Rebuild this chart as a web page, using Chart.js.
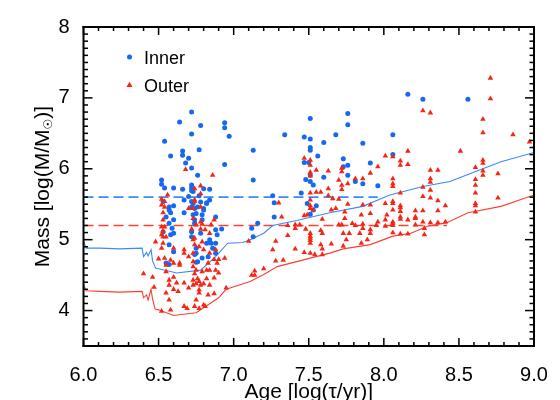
<!DOCTYPE html>
<html><head><meta charset="utf-8">
<script src="https://cdn.jsdelivr.net/npm/chart.js@4.4.0/dist/chart.umd.min.js"></script>
<style>html,body{margin:0;padding:0;background:#fff}#wrap{width:560px;height:400px}</style>
</head><body><div id="wrap"><canvas id="c" width="560" height="400"></canvas></div>
<script>
// Inner sample: age [log(tau/yr)], mass [log(M/Msun)]
const innerAge = [6.72,6.64,6.78,6.94,6.94,6.97,6.72,6.54,6.66,6.66,6.70,6.77,6.58,6.68,6.72,6.94,7.13,7.13,6.76,6.52,6.52,6.54,6.60,6.66,6.72,6.72,6.72,6.80,6.84,6.77,7.26,
8.16,8.26,8.56,7.51,7.76,7.76,7.34,7.47,7.51,7.68,8.06,7.51,7.51,7.60,7.86,7.56,7.47,7.50,7.73,7.73,7.76,8.06,7.91,7.48,7.60,7.76,7.51,7.51,7.53,7.81,7.86,7.96,7.45,
6.70,6.60,6.57,6.72,6.72,6.67,6.73,6.76,6.78,6.84,6.82,6.80,6.53,6.57,6.58,6.67,6.55,6.73,6.74,6.73,6.74,6.60,6.57,6.59,6.53,6.60,6.58,6.72,6.72,6.57,6.60,6.55,6.57,6.75,6.74,6.75,
6.82,6.80,6.88,6.92,6.88,6.89,6.84,6.85,6.82,6.88,6.86,6.88,6.83,6.79,6.75,6.76,6.78,6.74,7.13,6.75,6.79,6.79,7.27,7.27,7.16,7.12,7.49,7.55,7.53,7.51];
const innerMass = [6.80,6.66,6.61,6.65,6.58,6.46,6.49,6.39,6.25,6.19,6.15,6.27,6.18,6.08,6.01,6.06,6.26,5.84,5.91,5.84,5.78,5.73,5.73,5.71,5.77,5.73,5.69,5.72,5.71,5.62,5.62,
7.05,6.98,6.98,6.71,6.78,6.62,6.48,6.45,6.42,6.48,6.48,6.30,6.26,6.37,6.36,6.18,6.09,6.09,6.14,6.03,6.05,6.20,6.08,5.85,5.88,5.91,5.91,5.82,5.77,5.82,5.79,5.76,5.66,
5.61,5.48,5.46,5.54,5.46,5.56,5.68,5.46,5.53,5.56,5.51,5.44,5.54,5.42,5.38,5.38,5.32,5.51,5.44,5.35,5.28,5.28,5.23,5.16,5.11,5.09,5.07,5.11,5.04,4.93,4.83,4.67,4.65,4.88,4.79,4.68,
5.52,5.42,5.32,5.15,5.14,5.07,5.00,4.95,4.95,4.95,4.88,4.81,4.76,4.74,4.81,4.69,5.09,5.23,5.04,5.37,5.35,5.28,5.52,5.32,5.23,5.16,5.51,5.48,5.42,5.36];

// Outer sample
const outerAge = [6.68,6.86,6.78,6.74,6.56,6.78,6.52,6.52,6.54,6.54,6.70,6.73,6.74,
8.71,8.71,8.26,8.31,8.66,8.66,8.86,8.97,8.51,8.16,8.01,8.11,8.11,8.16,7.47,7.51,7.51,7.55,7.51,7.51,7.63,7.72,7.72,7.91,7.96,7.76,7.81,7.86,7.63,7.72,7.72,7.51,7.55,7.58,7.63,7.66,7.70,
8.06,8.06,8.06,8.11,8.31,8.31,8.31,8.31,8.36,8.26,8.26,8.61,8.66,8.66,8.66,8.66,8.61,8.61,8.61,8.76,8.76,8.61,8.61,8.61,
8.06,8.06,8.06,8.06,8.06,8.06,8.06,8.11,8.11,8.11,8.11,8.11,8.11,8.16,8.16,8.21,8.21,8.21,8.26,8.26,8.31,8.31,8.36,8.36,8.36,8.41,8.41,
7.47,7.51,7.51,7.53,7.49,7.41,7.44,7.51,7.51,7.51,7.51,7.51,7.51,7.47,7.41,7.58,7.59,7.58,7.59,7.59,7.33,7.73,7.65,7.77,7.70,7.72,7.85,7.79,7.85,7.89,7.91,7.95,8.01,8.02,8.21,8.27,8.27,
7.30,7.32,7.10,7.28,7.36,7.26,7.28,7.20,7.14,7.12,7.14,7.73,7.75,7.84,7.91,7.48,7.41,7.36,7.81,7.86,7.86,7.96,8.01,8.01,7.68,7.74,7.74,7.76,7.91,7.70,8.06,7.65,7.59,7.54,7.91,7.86,7.51,
6.52,6.54,6.53,6.52,6.53,6.55,6.48,6.53,6.52,6.60,6.67,6.67,6.58,6.54,6.60,6.64,6.70,6.73,6.73,6.40,6.47,6.46,6.57,6.57,6.60,6.60,6.67,6.70,6.73,6.73,6.77,6.55,6.62,6.63,6.57,6.58,6.67,6.74,6.77,
6.72,6.75,6.73,6.74,6.73,6.75,6.73,6.74,6.78,6.78,6.79,6.85,6.87,6.78,6.81,6.84,6.74,6.79,6.77,6.80,6.84,6.88,6.90,6.87,6.89,6.94,6.83,6.82,6.84,6.88,6.79,6.74,6.76,6.75,6.82,6.80,6.78,6.84,6.87,6.90,
6.77,6.83,6.87,6.75,6.80,6.77,6.81,6.95,6.50,6.55,6.55,6.52,6.64,6.69,6.53,6.53];
const outerMass = [5.99,5.91,5.76,5.72,5.63,5.65,5.57,5.49,5.54,5.46,5.44,5.44,5.54,
7.28,6.99,6.82,6.79,6.70,6.51,6.48,6.38,6.25,6.25,6.18,6.11,6.05,6.06,6.15,6.12,6.05,5.98,5.95,5.90,5.97,6.01,5.96,5.94,6.03,5.79,5.86,5.86,5.72,5.77,5.71,5.66,5.67,5.67,5.62,5.58,5.57,
5.86,5.79,5.75,5.66,5.98,5.86,5.81,5.70,5.98,5.74,5.61,6.02,6.12,6.08,5.97,5.91,5.85,5.77,5.66,5.93,5.59,5.51,5.48,5.39,
5.54,5.51,5.42,5.25,5.23,5.20,5.10,5.48,5.45,5.40,5.32,5.29,5.08,5.08,5.28,5.41,5.32,5.30,5.41,5.25,5.59,5.24,5.55,5.41,5.24,5.48,5.25,
5.34,5.48,5.44,5.42,5.35,5.21,5.21,5.09,5.05,5.02,4.99,4.95,4.81,4.82,4.87,5.13,5.09,4.93,4.87,4.79,4.71,5.09,4.94,5.09,5.21,5.21,5.35,5.23,4.95,5.00,5.14,5.20,5.51,5.35,5.21,5.16,5.07,
5.52,5.32,4.98,4.98,5.06,4.86,4.70,4.59,4.56,4.50,4.50,4.91,5.00,5.09,5.09,5.15,5.16,5.20,5.20,5.22,5.16,5.25,5.28,5.19,5.44,5.39,5.30,5.50,5.37,5.84,6.17,5.42,5.29,4.79,5.49,5.49,5.56,
5.18,5.18,5.12,5.07,5.04,5.04,4.97,4.95,4.88,4.88,4.86,4.81,4.71,4.74,4.67,4.67,4.76,4.81,4.69,4.52,4.33,4.47,4.43,4.36,4.47,4.30,4.39,4.32,4.43,4.36,4.41,4.25,4.39,4.27,4.15,4.01,4.06,4.06,4.29,
5.15,5.21,5.00,4.93,4.62,4.57,5.30,5.56,5.46,5.25,5.22,5.21,5.28,5.15,5.14,5.09,5.02,4.97,4.90,4.86,4.81,4.86,4.72,4.72,4.67,4.74,4.67,4.57,4.57,4.57,4.55,4.52,4.45,4.38,4.45,4.38,4.36,4.36,4.46,4.53,
4.25,4.22,4.24,4.15,4.08,4.03,4.06,4.32,4.73,4.64,4.55,3.99,4.64,4.03,5.38,5.28];

// Detection-limit curves
const innerLimitAge  = [6.00,6.017,6.11,6.24,6.39,6.40,6.42,6.43,6.45,6.46,6.48,6.50,6.58,6.62,6.78,6.88,6.96,7.06,7.11,7.20,7.26,7.42,7.64,7.86,7.96,8.04,8.26,8.44,8.56,8.78,9.00];
const innerLimitMass = [4.98,4.88,4.88,4.87,4.88,4.76,4.82,4.77,4.86,4.70,4.60,4.59,4.55,4.53,4.57,4.76,4.95,4.96,5.00,5.09,5.20,5.27,5.38,5.47,5.56,5.63,5.75,5.82,5.92,6.10,6.23];
const outerLimitAge  = [6.00,6.017,6.11,6.24,6.39,6.40,6.42,6.43,6.45,6.46,6.477,6.50,6.60,6.75,6.90,6.95,7.11,7.20,7.29,7.51,7.64,7.73,7.91,8.06,8.18,8.29,8.42,8.56,8.78,9.00];
const outerLimitMass = [4.37,4.28,4.27,4.26,4.27,4.18,4.22,4.15,4.30,4.16,4.02,4.01,3.93,3.97,4.18,4.30,4.41,4.51,4.62,4.74,4.81,4.87,4.93,5.05,5.09,5.19,5.24,5.38,5.47,5.63];

// Completeness levels (dashed)
const innerCutAge = [6.0, 7.96];
const innerCutMass = [5.6, 5.6];
const outerCutAge = [6.0, 8.42];
const outerCutMass = [5.2, 5.2];

const xTickValues = [6.0,6.5,7.0,7.5,8.0,8.5,9.0];
const yTickValues = [4,5,6,7,8];
const seriesNames = ['Inner','Outer'];

const BLUE = 'rgb(22,104,240)';
const RED = 'rgb(245,38,22)';
const BLUE_LINE = 'rgb(58,138,250)';
const RED_LINE = 'rgb(250,64,48)';
const FONT = '"Liberation Sans", Arial, Helvetica, sans-serif';

const pts = (xs, ys) => xs.map((x, i) => ({x: x, y: ys[i]}));

const framePlugin = {
  id: 'frame',
  afterDraw(chart) {
    const ctx = chart.ctx;
    const a = chart.chartArea;
    const xs = chart.scales.x, ys = chart.scales.y;
    ctx.save();
    ctx.setLineDash([]);
    ctx.globalAlpha = 1;
    ctx.fillStyle = '#000';
    const tw = 1.5;
    // x minor/major ticks every 0.1, drawn inward on bottom and top
    for (let i = 0; i <= 30; i++) {
      const px = xs.getPixelForValue(6 + i / 10);
      const len = (i % 5 === 0) ? 8 : 4;
      ctx.fillRect(px - tw / 2, a.bottom - len, tw, len);
      ctx.fillRect(px - tw / 2, a.top, tw, len);
    }
    // y ticks every 0.1, drawn inward on left and right
    for (let i = 35; i <= 80; i++) {
      const py = ys.getPixelForValue(i / 10);
      const len = (i % 10 === 0) ? 9 : 4.5;
      ctx.fillRect(a.left, py - tw / 2, len, tw);
      ctx.fillRect(a.right - len, py - tw / 2, len, tw);
    }
    // frame
    const fw = 2;
    ctx.fillRect(a.left - fw / 2, a.top - fw / 2, a.right - a.left + fw, fw);
    ctx.fillRect(a.left - fw / 2, a.bottom - fw / 2, a.right - a.left + fw, fw);
    ctx.fillRect(a.left - fw / 2, a.top - fw / 2, fw, a.bottom - a.top + fw);
    ctx.fillRect(a.right - fw / 2, a.top - fw / 2, fw, a.bottom - a.top + fw);

    // legend
    const lx = a.left + 46, ly1 = a.top + 30, ly2 = a.top + 58;
    ctx.fillStyle = BLUE;
    ctx.beginPath(); ctx.arc(lx, ly1, 2.5, 0, Math.PI * 2); ctx.fill();
    ctx.fillStyle = RED;
    ctx.beginPath();
    ctx.moveTo(lx, ly2 - 3.2); ctx.lineTo(lx + 3, ly2 + 2); ctx.lineTo(lx - 3, ly2 + 2); ctx.closePath(); ctx.fill();
    ctx.fillStyle = '#000';
    ctx.font = '18px ' + FONT;
    ctx.textBaseline = 'alphabetic';
    ctx.textAlign = 'left';
    ctx.fillText(seriesNames[0], lx + 14.5, ly1 + 6.5);
    ctx.fillText(seriesNames[1], lx + 14.5, ly2 + 6.5);

    // y axis title with subscript sun symbol
    const cy = (a.top + a.bottom) / 2;
    ctx.translate(41, cy);
    ctx.rotate(-Math.PI / 2);
    const big = '21px ' + FONT, small = '12px "DejaVu Sans", ' + FONT;
    const p1 = 'Mass [log(M/M', p2 = '\u2609', p3 = ')]';
    ctx.font = big; const w1 = ctx.measureText(p1).width, w3 = ctx.measureText(p3).width;
    ctx.font = small; const w2 = ctx.measureText(p2).width;
    let sx = -(w1 + w2 + w3) / 2;
    ctx.font = big; ctx.fillText(p1, sx, 7.5); sx += w1;
    ctx.font = small; ctx.fillText(p2, sx, 11); sx += w2;
    ctx.font = big; ctx.fillText(p3, sx, 7.5);
    ctx.restore();
  }
};

new Chart(document.getElementById('c'), {
  type: 'scatter',
  data: {
    datasets: [
      {label: 'Inner limit', type: 'line', data: pts(innerLimitAge, innerLimitMass), borderColor: BLUE_LINE, borderWidth: 1.1, pointRadius: 0, fill: false, tension: 0, order: 5},
      {label: 'Outer limit', type: 'line', data: pts(outerLimitAge, outerLimitMass), borderColor: RED_LINE, borderWidth: 1.1, pointRadius: 0, fill: false, tension: 0, order: 5},
      {label: 'Inner cut', type: 'line', data: pts(innerCutAge, innerCutMass), borderColor: BLUE_LINE, borderWidth: 1.6, borderDash: [10, 5], pointRadius: 0, fill: false, order: 5},
      {label: 'Outer cut', type: 'line', data: pts(outerCutAge, outerCutMass), borderColor: RED_LINE, borderWidth: 1.6, borderDash: [10, 5], pointRadius: 0, fill: false, order: 5},
      {label: seriesNames[0], data: pts(innerAge, innerMass), pointStyle: 'circle', pointRadius: 2.5, backgroundColor: BLUE, borderWidth: 0, order: 3},
      {label: seriesNames[1], data: pts(outerAge, outerMass), pointStyle: 'triangle', pointRadius: 3.2, backgroundColor: RED, borderWidth: 0, order: 2}
    ]
  },
  options: {
    responsive: false,
    animation: false,
    events: [],
    layout: {padding: {top: 27, right: 26, left: 0, bottom: 0}},
    plugins: {legend: {display: false}, tooltip: {enabled: false}},
    scales: {
      x: {
        type: 'linear', min: 6, max: 9,
        grid: {display: false}, border: {display: false},
        afterBuildTicks: s => { s.ticks = xTickValues.map(v => ({value: v})); },
        afterFit: s => { s.height = 54; },
        ticks: {color: '#000', font: {size: 20, family: FONT}, padding: 9, maxRotation: 0, autoSkip: false, callback: v => Number(v).toFixed(1)},
        title: {display: true, text: 'Age [log(\u03C4/yr)]', color: '#000', font: {size: 21, family: FONT, lineHeight: 1}, padding: {top: 0, bottom: -3}}
      },
      y: {
        type: 'linear', min: 3.5, max: 8,
        grid: {display: false}, border: {display: false},
        afterBuildTicks: s => { s.ticks = yTickValues.map(v => ({value: v})); },
        afterFit: s => { s.width = 83.5; },
        ticks: {color: '#000', font: {size: 20, family: FONT}, padding: 6, autoSkip: false, callback: v => String(v)}
      }
    }
  },
  plugins: [framePlugin]
});
</script></body></html>
